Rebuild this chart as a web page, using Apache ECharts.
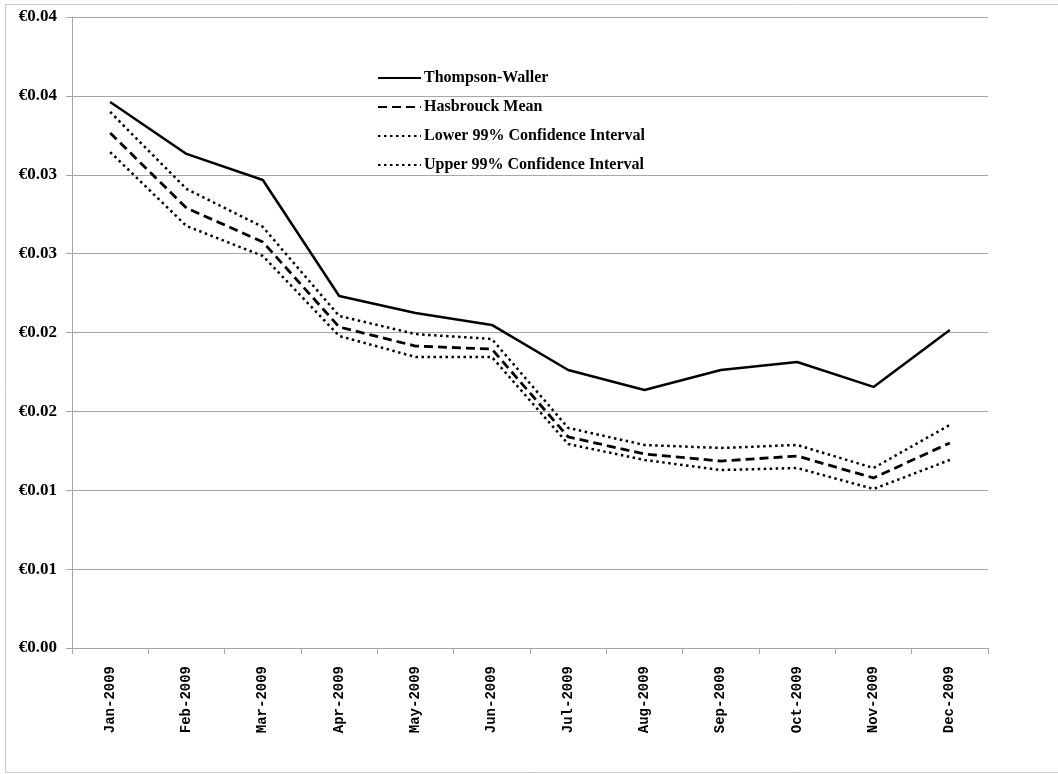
<!DOCTYPE html>
<html>
<head>
<meta charset="utf-8">
<script src="https://cdn.jsdelivr.net/npm/echarts@6/dist/echarts.min.js"></script>
<style>html,body{margin:0;padding:0;background:#fff;}#c{width:1058px;height:774px;}</style>
</head>
<body>
<div id="c"></div>
<script>
var categories = ['Jan-2009','Feb-2009','Mar-2009','Apr-2009','May-2009','Jun-2009','Jul-2009','Aug-2009','Sep-2009','Oct-2009','Nov-2009','Dec-2009'];
var thompsonWaller = [0.03461,0.03132,0.02967,0.02231,0.02124,0.02048,0.01762,0.01635,0.01762,0.01813,0.01655,0.02016];
var hasbrouckMean = [0.03265,0.02789,0.02574,0.02035,0.01914,0.01895,0.01338,0.01230,0.01185,0.01217,0.01078,0.01300];
var lowerCI = [0.03144,0.02675,0.02485,0.01978,0.01845,0.01845,0.01293,0.01192,0.01128,0.01141,0.01008,0.01192];
var upperCI = [0.03398,0.02910,0.02669,0.02105,0.01990,0.01959,0.01395,0.01287,0.01268,0.01287,0.01141,0.01414];
var seriesNames = ['Thompson-Waller','Hasbrouck Mean','Lower 99% Confidence Interval','Upper 99% Confidence Interval'];

var chart = echarts.init(document.getElementById('c'), null, {renderer:'canvas'});
var font = 'Liberation Serif';
function mk(name, data, type, w) {
  return {
    name: name, type: 'line', data: data, symbol: 'none', smooth: false,
    lineStyle: {color: '#000', width: w, type: type, cap: 'butt'},
    itemStyle: {color: '#000'},
    emphasis: {disabled: true}
  };
}
chart.setOption({
  animation: false,
  backgroundColor: '#fff',
  graphic: [{
    type: 'rect', shape: {x: 5.5, y: 4.5, width: 1060, height: 768},
    style: {fill: 'none', stroke: '#c8c8c8', lineWidth: 1}, silent: true, z: -1
  }],
  grid: {left: 72, right: 70, top: 17, bottom: 126, containLabel: false},
  legend: {
    orient: 'vertical', left: 372, top: 65, itemGap: 13, itemWidth: 43, itemHeight: 15,
    data: seriesNames,
    itemStyle: {color: 'rgba(0,0,0,0)', borderColor: 'rgba(0,0,0,0)', borderWidth: 0},
    textStyle: {fontFamily: font, fontWeight: 'bold', fontSize: 16, color: '#000', padding: [0, 0, 0, -2]}
  },
  xAxis: {
    type: 'category', data: categories, boundaryGap: true,
    axisLine: {lineStyle: {color: '#a6a6a6', width: 1}},
    axisTick: {show: true, length: 6, lineStyle: {color: '#a6a6a6'}},
    axisLabel: {rotate: 90, margin: 18, fontFamily: 'Liberation Mono', fontWeight: 'bold', fontSize: 14, color: '#000'}
  },
  yAxis: {
    type: 'value', min: 0, max: 0.04, interval: 0.005,
    axisLine: {show: true, lineStyle: {color: '#a6a6a6', width: 1}},
    axisTick: {show: true, length: 6, lineStyle: {color: '#a6a6a6'}},
    splitLine: {lineStyle: {color: '#a6a6a6', width: 1}},
    axisLabel: {
      margin: 15, fontFamily: font, fontWeight: 'bold', fontSize: 17, color: '#000',
      formatter: function (v) { return '€' + (Math.round(v * 100 + 1e-6) / 100).toFixed(2); }
    }
  },
  series: [
    mk(seriesNames[0], thompsonWaller, 'solid', 2.5),
    mk(seriesNames[1], hasbrouckMean, [9, 5], 2.8),
    mk(seriesNames[2], lowerCI, [2.5, 3.5], 2.5),
    mk(seriesNames[3], upperCI, [2.5, 3.5], 2.5)
  ]
});
</script>
</body>
</html>
